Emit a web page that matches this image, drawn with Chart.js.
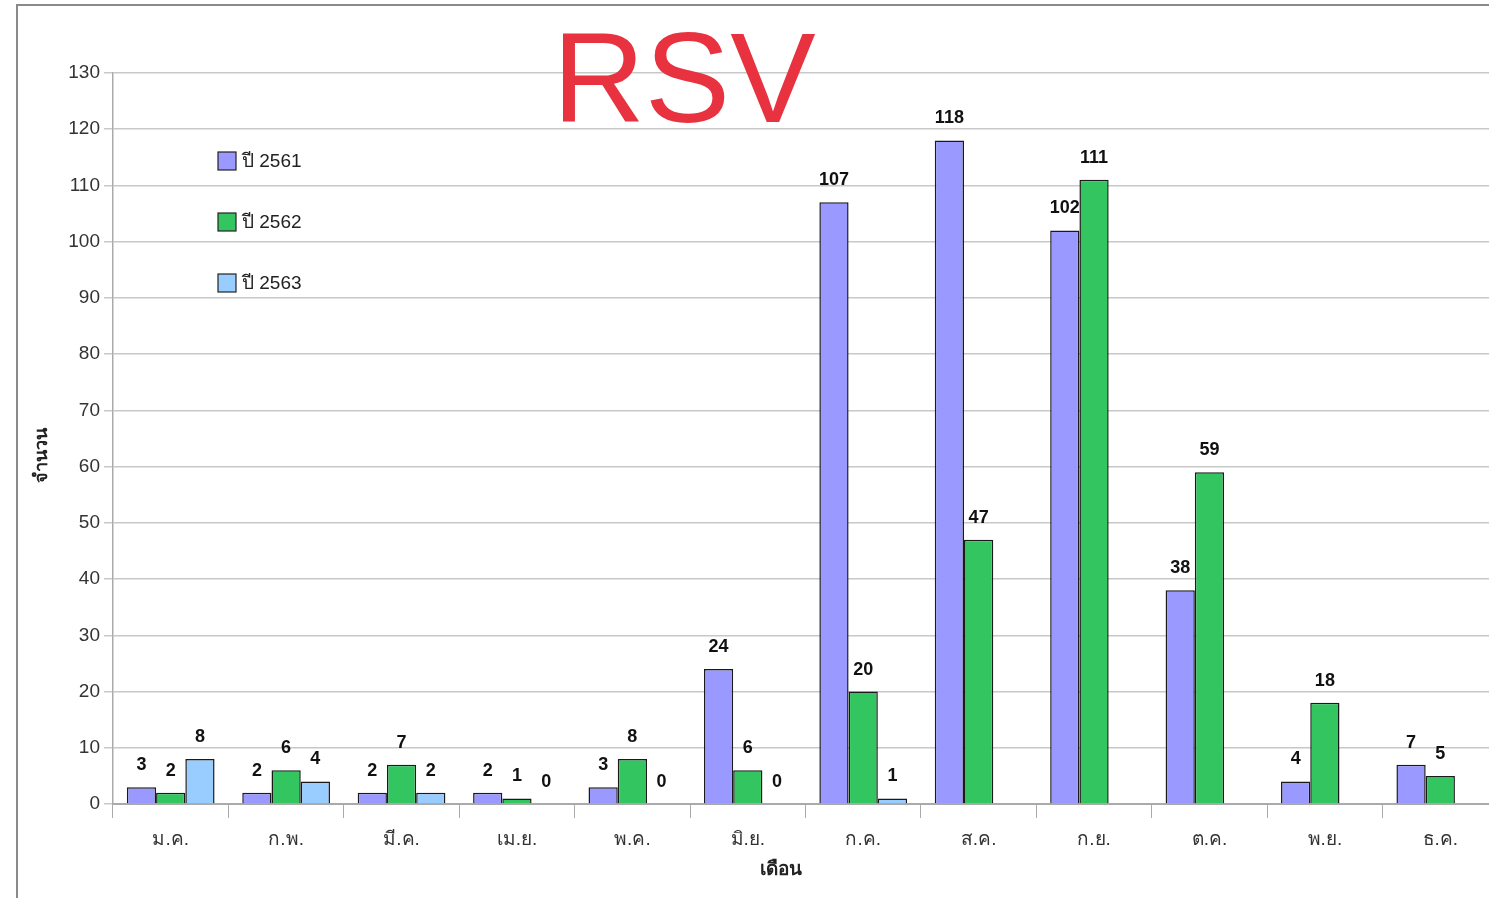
<!DOCTYPE html>
<html>
<head>
<meta charset="utf-8">
<script src="https://cdn.jsdelivr.net/npm/chart.js@4.4.0/dist/chart.umd.min.js"></script>
<style>
  html, body { margin: 0; padding: 0; background: #fff; overflow: hidden; }
  #wrap { position: relative; width: 1489px; height: 898px; overflow: hidden; }
  #frame { position: absolute; left: 16px; top: 4px; right: 0; bottom: 0;
           border-top: 2px solid #8a8a8a; border-left: 2px solid #8a8a8a; }
  canvas { position: absolute; left: 0; top: 0; }
</style>
</head>
<body>
<div id="wrap">
  <div id="frame"></div>
  <canvas id="myChart" width="1498" height="898"></canvas>
</div>
<script>
// months (Thai abbreviations)
var months = ["ม.ค.", "ก.พ.", "มี.ค.", "เม.ย.", "พ.ค.", "มิ.ย.", "ก.ค.", "ส.ค.", "ก.ย.", "ต.ค.", "พ.ย.", "ธ.ค."];
var yearLabels = ["ปี 2561", "ปี 2562", "ปี 2563"];
var y2561 = [3, 2, 2, 2, 3, 24, 107, 118, 102, 38, 4, 7];
var y2562 = [2, 6, 7, 1, 8, 6, 20, 47, 111, 59, 18, 5];
var y2563 = [8, 4, 2, 0, 0, 0, 1, null, null, null, null, null];
var yTicks = [0, 10, 20, 30, 40, 50, 60, 70, 80, 90, 100, 110, 120, 130];

var colors = ["#9999ff", "#33c660", "#99ccff"];
var fontMain = "'Liberation Sans', Arial, 'Noto Sans', sans-serif";

// number labels on top of bars
var barLabels = {
  id: "barLabels",
  afterDatasetsDraw: function(chart){
    var ctx = chart.ctx;
    ctx.save();
    ctx.font = "bold 18px " + fontMain;
    ctx.fillStyle = "#111";
    ctx.textAlign = "center";
    ctx.textBaseline = "bottom";
    chart.data.datasets.forEach(function(ds, i){
      var meta = chart.getDatasetMeta(i);
      meta.data.forEach(function(bar, j){
        var v = ds.data[j];
        if(v === null || v === undefined){ return; }
        ctx.fillText(String(v), bar.x, bar.y - 13);
      });
    });
    ctx.restore();
  }
};

// legend inside the plot, axis titles + big title
var extras = {
  id: "extras",
  afterDraw: function(chart){
    var ctx = chart.ctx;
    ctx.save();
    // legend
    var lx = 218, ly = [152, 213, 274];
    chart.data.datasets.forEach(function(ds, i){
      ctx.fillStyle = ds.backgroundColor;
      ctx.fillRect(lx, ly[i], 18, 18);
      ctx.strokeStyle = "#222";
      ctx.lineWidth = 1.2;
      ctx.strokeRect(lx, ly[i], 18, 18);
      ctx.fillStyle = "#222";
      ctx.font = "19px " + fontMain;
      ctx.textAlign = "left";
      ctx.textBaseline = "middle";
      ctx.fillText(ds.label, lx + 24, ly[i] + 10);
    });
    // axis titles
    ctx.fillStyle = "#222";
    ctx.font = "bold 19px " + fontMain;
    ctx.textAlign = "center";
    ctx.textBaseline = "middle";
    ctx.fillText("เดือน", 781, 870);
    ctx.translate(42, 455);
    ctx.rotate(-Math.PI / 2);
    ctx.font = "bold 18px " + fontMain;
    ctx.fillText("จำนวน", 0, 0);
    ctx.setTransform(1, 0, 0, 1, 0, 0);
    // title
    ctx.fillStyle = "#e8323f";
    ctx.font = "128px " + fontMain;
    ctx.textAlign = "center";
    ctx.textBaseline = "alphabetic";
    ctx.fillText("RSV", 684, 122);
    ctx.restore();
  }
};

function mkSet(label, data, color){
  return {
    label: label,
    data: data,
    backgroundColor: color,
    borderColor: "#1a1a1a",
    borderWidth: 1.5,
    barPercentage: 1.0,
    categoryPercentage: 0.76
  };
}

document.addEventListener("DOMContentLoaded", function(){
  var config = {
    type: "bar",
    data: {
      labels: months,
      datasets: [
        mkSet(yearLabels[0], y2561, colors[0]),
        mkSet(yearLabels[1], y2562, colors[1]),
        mkSet(yearLabels[2], y2563, colors[2])
      ]
    },
    options: {
      responsive: false,
      animation: false,
      layout: { padding: { top: 73, left: 0, right: 0, bottom: 0 } },
      plugins: {
        legend: { display: false },
        tooltip: { enabled: false }
      },
      scales: {
        x: {
          grid: { offset: true, drawOnChartArea: false, color: "#aaa", tickLength: 14 },
          border: { color: "#aaa", width: 2 },
          ticks: { color: "#333", font: { size: 19, family: fontMain }, padding: 10 },
          afterFit: function(s){ s.height = 94; }
        },
        y: {
          min: 0, max: 130,
          afterBuildTicks: function(s){ s.ticks = yTicks.map(function(v){ return { value: v }; }); },
          grid: { color: "#c8c8c8", lineWidth: 1.5, tickLength: 9 },
          border: { color: "#aaa", width: 1.5 },
          ticks: { color: "#333", font: { size: 19, family: fontMain }, padding: 4 },
          afterFit: function(s){ s.width = 113; }
        }
      }
    },
    plugins: [barLabels, extras]
  };
  new Chart(document.getElementById("myChart"), config);
});
</script>
</body>
</html>
